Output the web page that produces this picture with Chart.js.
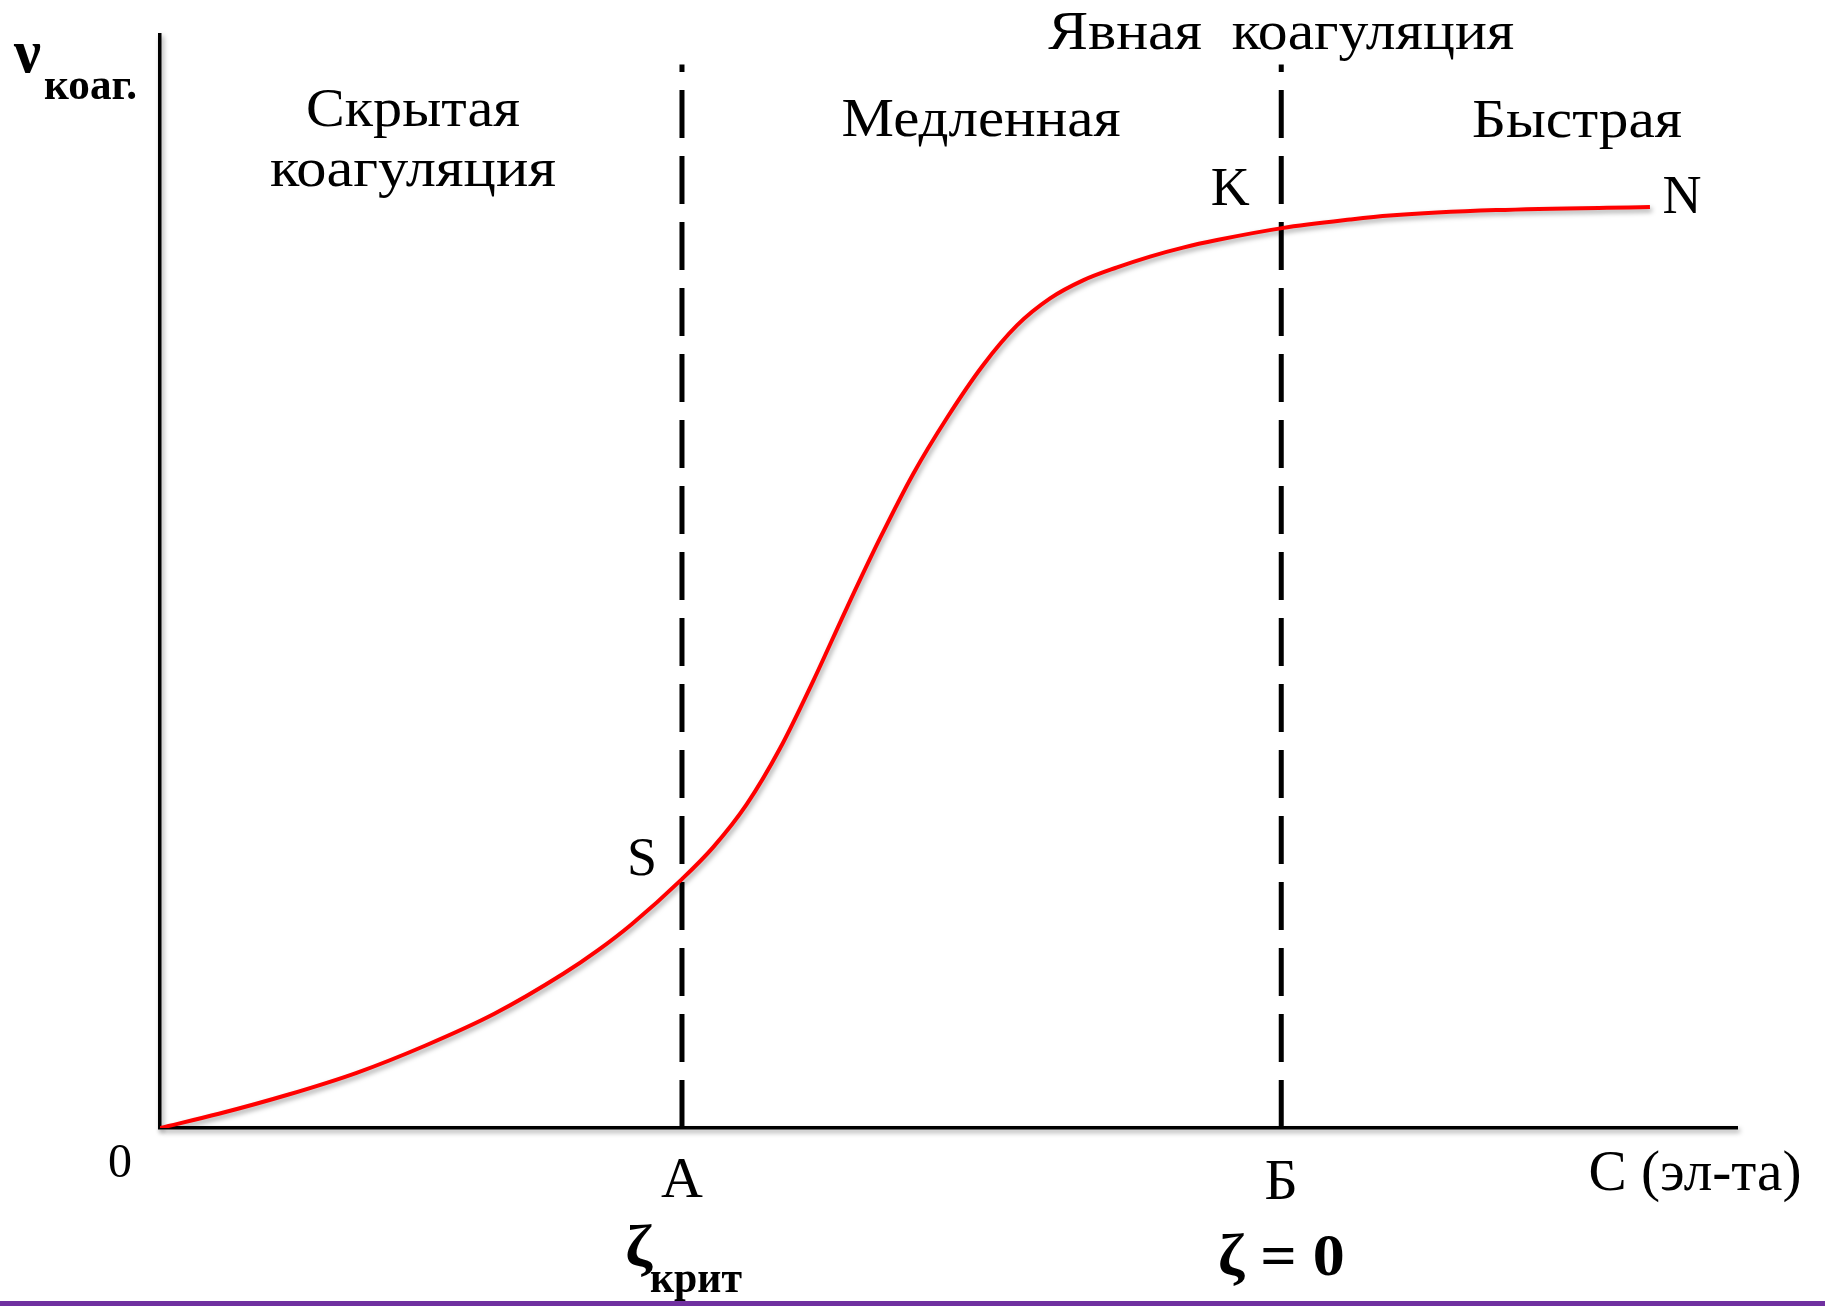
<!DOCTYPE html>
<html><head><meta charset="utf-8">
<script src="https://cdn.jsdelivr.net/npm/chart.js@4.4.1/dist/chart.umd.min.js"></script>
<style>html,body{margin:0;padding:0;background:#fff;overflow:hidden}</style>
</head><body>
<canvas id="c" width="1825" height="1306"></canvas>
<script>
// ---- data (concentration, coagulation rate; arbitrary units 0..100) ----
const curveX = [0, 3.73, 8.10, 12.47, 16.84, 21.20, 25.57, 27.76, 29.93, 33.08, 35.07, 37.20, 39.32, 41.44, 43.54, 45.66, 47.75, 49.89, 52.19, 54.34, 56.44, 58.53, 60.69, 62.78, 64.87, 67.03, 71.15, 75.46, 77.99, 84.72, 94.48];
const curveY = [0, 1.30, 3.04, 5.05, 7.55, 10.45, 14.11, 16.25, 18.67, 22.75, 25.68, 29.61, 34.74, 40.96, 47.55, 53.96, 59.82, 64.94, 69.79, 73.43, 75.90, 77.55, 78.74, 79.73, 80.55, 81.24, 82.33, 83.11, 83.48, 83.98, 84.26];
const boundaryX = [33.1, 71.1];
const boundaryTop = 97.3;
const boundaryLabels = ['A', 'Б'];
const boundaryZeta = ['крит', '= 0'];
const pointLabels = ['S', 'K', 'N'];
const regionLabels = ['Скрытая', 'коагуляция', 'Медленная', 'Явная  коагуляция', 'Быстрая'];
const axisLabels = ['ν', 'коаг.', 'С (эл-та)', '0'];

const curveData = curveX.map((x, i) => ({x, y: curveY[i]}));
const boundaryData = boundaryX.map(x => [{x, y: 0}, {x, y: boundaryTop}]);

const FONT = '"Liberation Serif", "Times New Roman", serif';
function txt(ctx, s, x, y, size, bold, align, width) {
  ctx.save();
  ctx.font = (bold ? 'bold ' : '') + size + 'px ' + FONT;
  ctx.fillStyle = '#000';
  ctx.textBaseline = 'alphabetic';
  ctx.textAlign = align;
  ctx.translate(x, y);
  if (width) {
    const w = ctx.measureText(s).width;
    ctx.scale(width / w, 1);
  }
  ctx.fillText(s, 0, 0);
  ctx.restore();
}

function setShadow(ctx) {
  ctx.shadowColor = 'rgba(0,0,0,0.35)';
  ctx.shadowBlur = 5;
  ctx.shadowOffsetX = 2;
  ctx.shadowOffsetY = 3;
}

const shadowPlugin = {
  id: 'shadows',
  beforeDraw(chart) { chart.ctx.save(); setShadow(chart.ctx); },
  beforeDatasetsDraw(chart) { chart.ctx.restore(); },
  beforeDatasetDraw(chart, args) {
    if (args.index === 0) { chart.ctx.save(); setShadow(chart.ctx); }
  },
  afterDatasetDraw(chart, args) {
    if (args.index === 0) chart.ctx.restore();
  }
};

const labelPlugin = {
  id: 'labels',
  afterDraw(chart) {
    const ctx = chart.ctx;
    const xs = chart.scales.x;
    const px = v => xs.getPixelForValue(v);
    // axis title
    txt(ctx, axisLabels[0], 14, 72, 62, true, 'left', 27);
    txt(ctx, axisLabels[1], 44, 99, 44, true, 'left', 93);
    // regions
    txt(ctx, regionLabels[0], 413, 126, 54, false, 'center', 214);
    txt(ctx, regionLabels[1], 413, 186, 54, false, 'center', 286);
    txt(ctx, regionLabels[2], 981, 136, 54, false, 'center', 279);
    txt(ctx, regionLabels[3], px(boundaryX[1]), 49, 54, false, 'center', 466);
    txt(ctx, regionLabels[4], 1577, 137, 54, false, 'center', 210);
    // points
    txt(ctx, pointLabels[0], px(boundaryX[0]) - 40, 875, 54, false, 'center');
    txt(ctx, pointLabels[1], px(boundaryX[1]) - 51, 205, 54, false, 'center');
    txt(ctx, pointLabels[2], px(curveX[curveX.length - 1]) + 32, 213, 54, false, 'center');
    // x-axis labels
    txt(ctx, axisLabels[3], 120, 1177, 48, false, 'center');
    txt(ctx, boundaryLabels[0], px(boundaryX[0]), 1197, 58, false, 'center');
    txt(ctx, boundaryLabels[1], px(boundaryX[1]), 1199, 58, false, 'center');
    txt(ctx, axisLabels[2], 1695, 1190, 56, false, 'center', 213);
    // zeta labels
    txt(ctx, 'ζ', 625, 1266, 60, true, 'left', 27);
    txt(ctx, boundaryZeta[0], 650, 1292, 44, true, 'left', 92);
    txt(ctx, 'ζ ' + boundaryZeta[1], px(boundaryX[1]), 1275, 60, true, 'center', 127);
    // bottom purple rule
    ctx.save();
    ctx.fillStyle = '#7030A0';
    ctx.fillRect(0, 1301, chart.width, 5);
    ctx.restore();
  }
};

new Chart(document.getElementById('c'), {
  type: 'line',
  data: {
    datasets: [
      {data: curveData, borderColor: '#ff0000', borderWidth: 4, pointRadius: 0, cubicInterpolationMode: 'monotone', fill: false},
      {data: boundaryData[0], borderColor: '#000', borderWidth: 5, borderDash: [48, 18], borderCapStyle: 'butt', pointRadius: 0, fill: false},
      {data: boundaryData[1], borderColor: '#000', borderWidth: 5, borderDash: [48, 18], borderCapStyle: 'butt', pointRadius: 0, fill: false}
    ]
  },
  options: {
    responsive: false,
    animation: false,
    events: [],
    layout: {padding: {left: 160, top: 35, right: 88, bottom: 178}},
    plugins: {legend: {display: false}, tooltip: {enabled: false}, title: {display: false}},
    scales: {
      x: {type: 'linear', min: 0, max: 100, grid: {display: false, drawTicks: false}, ticks: {display: false}, border: {display: true, color: '#000', width: 3.5}},
      y: {type: 'linear', min: 0, max: 100, grid: {display: false, drawTicks: false}, ticks: {display: false}, border: {display: true, color: '#000', width: 3.5}}
    }
  },
  plugins: [shadowPlugin, labelPlugin]
});
</script>
</body></html>
